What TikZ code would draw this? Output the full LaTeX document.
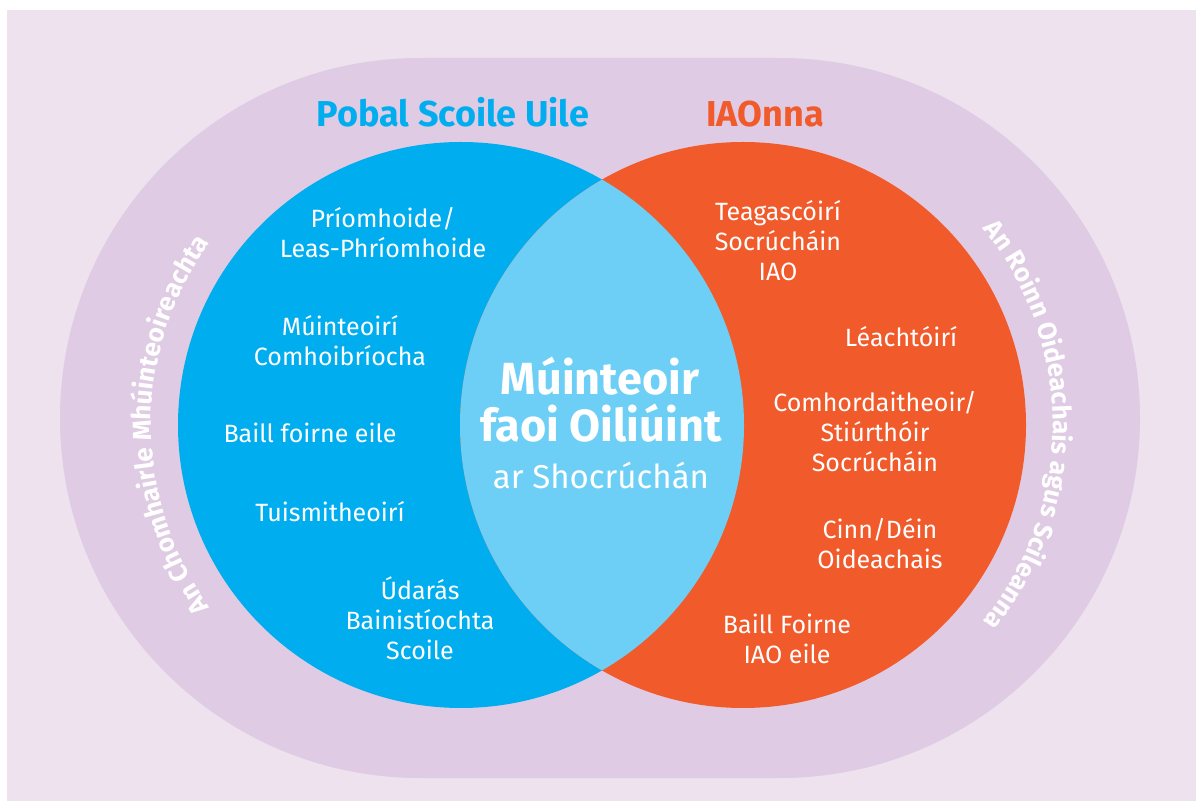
\documentclass[tikz,border=0pt]{standalone}
\usepackage{fontspec}
\setmainfont{Fira Sans}
\usetikzlibrary{decorations.text}
\definecolor{bgc}{HTML}{EEE2EF}
\definecolor{stadc}{HTML}{DFCBE3}
\definecolor{blueA}{HTML}{00AEEF}
\definecolor{blueL}{HTML}{6DCFF6}
\definecolor{orangeA}{HTML}{F15A2B}
\newcommand{\curvefont}{\fontsize{26}{26}\selectfont\bfseries}
\begin{document}
\begin{tikzpicture}[x=1pt,y=1pt,
  lbl/.style={text=white, font=\fontsize{25}{30}\selectfont, align=center, anchor=base, inner sep=0pt},
  ttl/.style={text=white, font=\fontsize{45}{47}\selectfont\bfseries, anchor=base, inner sep=0pt},
  sub/.style={text=white, font=\fontsize{33}{33}\selectfont, anchor=base, inner sep=0pt},
  hdr/.style={font=\fontsize{36}{36}\selectfont\bfseries, anchor=base, inner sep=0pt},
  venn/.style={circle, minimum size=566pt, inner sep=0pt, draw=none}]
\useasboundingbox (0,0) rectangle (1196,801);
\fill[bgc] (7,0) rectangle (1196,791);
\fill[stadc] (420,743) -- (780,743) arc[start angle=90,end angle=-90,radius=360]
  -- (420,23) arc[start angle=270,end angle=90,radius=360] -- cycle;
\node[venn, fill=blueA] (cb) at (461,376) {};
\node[venn, fill=orangeA] (co) at (743,376) {};
\begin{scope}
  \clip (cb.center) circle[radius=283];
  \fill[blueL] (co.center) circle[radius=283];
\end{scope}
% headings
\node[hdr, text=blueA] (h1) at (453,674) {Pobal Scoile Uile};
\node[hdr, text=orangeA] (h2) at (765,674) {IAOnna};
% centre
\node[ttl] (t1) at (600,406) {Múinteoir};
\node[ttl] (t2) at (601,359) {faoi Oiliúint};
\node[sub] (t3) at (601,312) {ar Shocrúchán};
% left labels (anchor at baseline of last line)
\node[lbl] (l1) at (383,543) {Príomhoide/\\Leas-Phríomhoide};
\node[lbl] (l2) at (340,435) {Múinteoirí\\Comhoibríocha};
\node[lbl] (l3) at (310,358) {Baill foirne eile};
\node[lbl] (l4) at (330,279) {Tuismitheoirí};
\node[lbl] (l5) at (420,142) {Údarás\\Bainistíochta\\Scoile};
% right labels
\node[lbl] (r1) at (778,520) {Teagascóirí\\Socrúcháin\\IAO};
\node[lbl] (r2) at (901,454) {Léachtóirí};
\node[lbl] (r3) at (875,329) {Comhordaitheoir/\\Stiúrthóir\\Socrúcháin};
\node[lbl] (r4) at (880,233) {Cinn/Déin\\Oideachais};
\node[lbl] (r5) at (787,138) {Baill Foirne\\IAO eile};
% curved texts
\path[decorate, decoration={text along path, text={|\curvefont|An Chomhairle Mhúinteoireachta}, text align=center, text color=white}]
  ([shift={(225:310)}]cb.center) arc[start angle=225, end angle=135, radius=310];
\path[decorate, decoration={text along path, text={|\curvefont|An Roinn Oideachais agus Scileanna}, text align=center, text color=white}]
  ([shift={(48:310)}]co.center) arc[start angle=48, end angle=-48, radius=310];
\end{tikzpicture}
\end{document}
